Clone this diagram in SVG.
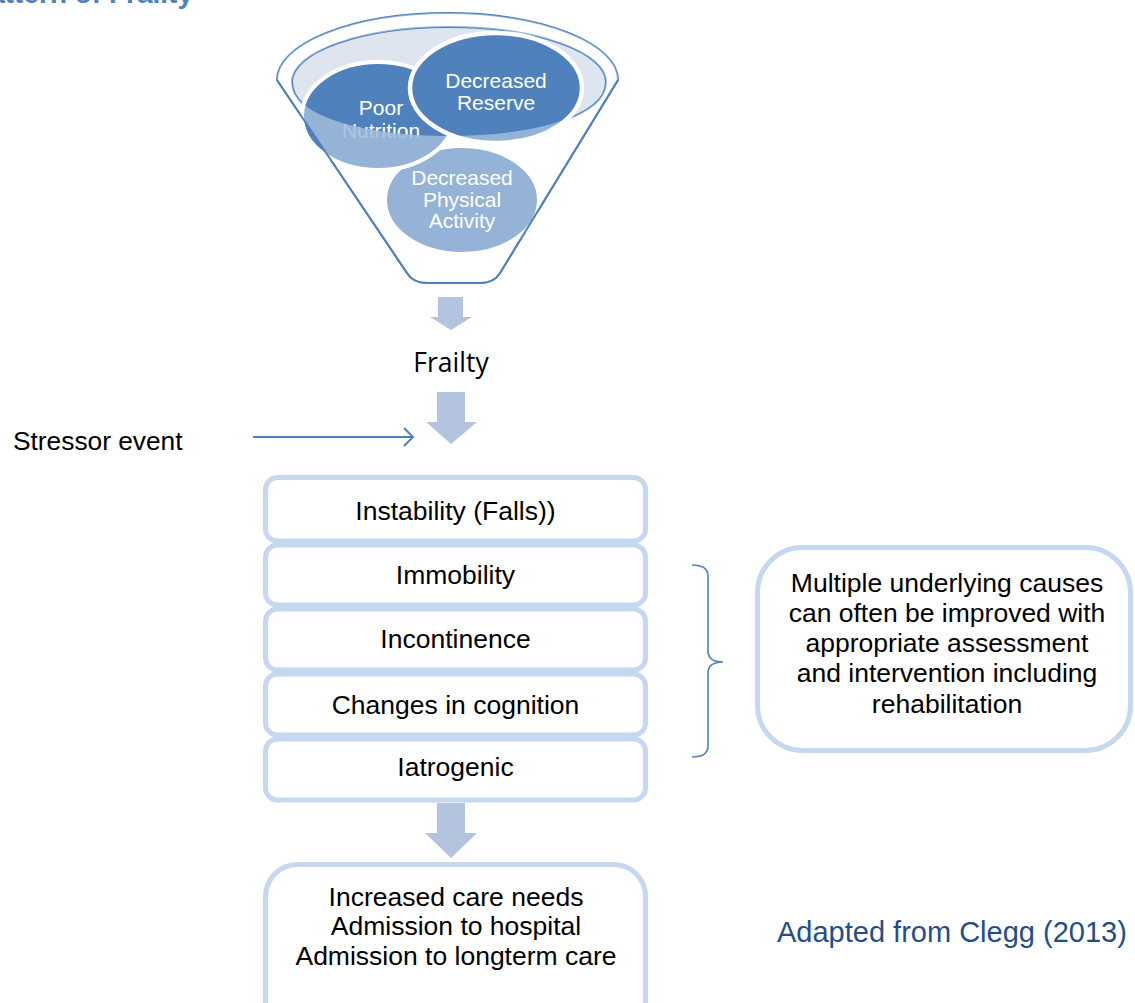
<svg xmlns="http://www.w3.org/2000/svg" width="1135" height="1003" viewBox="0 0 1135 1003">
<defs>
<style>
.t{font-family:"Liberation Sans",Arial,sans-serif;font-size:26.5px;fill:#000;text-anchor:middle}
.w{font-family:"Liberation Sans",Arial,sans-serif;font-size:21px;fill:#fff;text-anchor:middle}
.box{fill:#fff;stroke:#c6d8f0;stroke-width:5}
.arr{fill:#b3c4df}
.blue{fill:none;stroke:#4f81bd;stroke-width:2}
</style>
<clipPath id="innerClip"><path d="M292,82 A157,55 0 0,1 606,82 C606,154 292,154 292,82 Z"/></clipPath>
</defs>
<rect width="1135" height="1003" fill="#fff"/>
<text x="193" y="3" font-family="Liberation Sans, Arial, sans-serif" font-size="28" font-weight="bold" fill="#4f81bd" text-anchor="end">Pattern of Frailty</text>

<g id="funnel">
<path d="M277,80 A170.5,67 0 0,1 618,80 L500,273 Q494,283 480,283 L427,283 Q413,283 407,273 Z" fill="#fff" stroke="#4f81bd" stroke-width="2"/>
<path d="M292,82 A157,55 0 0,1 606,82 C606,154 292,154 292,82 Z" fill="#dfe5ef" stroke="#4f81bd" stroke-width="2"/>
</g>
<g id="node-dpa">
<ellipse cx="462" cy="200" rx="77" ry="54" fill="#4f81bd" stroke="#fff" stroke-width="4"/>
</g>
<g id="node-poor-nutrition">
<ellipse cx="378" cy="116" rx="76" ry="54" fill="#4f81bd" stroke="#fff" stroke-width="4"/>
<text class="w" x="381" y="115" clip-path="url(#innerClip)">Poor</text>
<text class="w" x="381" y="138" clip-path="url(#innerClip)">Nutrition</text>
<text class="w" x="381" y="138" fill-opacity="0.25">Nutrition</text>
</g>
<g id="node-decreased-reserve">
<ellipse cx="496" cy="88" rx="86" ry="55" fill="#4f81bd" stroke="#fff" stroke-width="4.5"/>
<text class="w" x="496" y="88">Decreased</text>
<text class="w" x="496" y="110">Reserve</text>
</g>
<g id="funnel-overlay">
<path d="M277,80 A170.5,67 0 0,1 618,80 L500,273 Q494,283 480,283 L427,283 Q413,283 407,273 Z M292,82 A157,55 0 0,1 606,82 C606,154 292,154 292,82 Z" fill="#fff" fill-opacity="0.4" fill-rule="evenodd"/>
<path d="M277,80 L407,273 Q413,283 427,283 L480,283 Q494,283 500,273 L618,80" fill="none" stroke="#4f81bd" stroke-width="2"/>
<text class="w" x="462" y="185">Decreased</text>
<text class="w" x="462" y="207">Physical</text>
<text class="w" x="462" y="228">Activity</text>
</g>

<g id="node-frailty">
<text x="451" y="372" font-family="Open Sans, sans-serif" font-size="26.5" fill="#000" text-anchor="middle">Frailty</text>
</g>
<g id="node-stressor">
<text x="13" y="450" font-family="Liberation Sans, Arial, sans-serif" font-size="26.3" fill="#000">Stressor event</text>
</g>

<g id="node-instability"><rect class="box" x="265.5" y="477.5" width="380" height="63.5" rx="12"/><text class="t" x="455.5" y="520">Instability (Falls))</text></g>
<g id="node-immobility"><rect class="box" x="265.5" y="545" width="380" height="60" rx="12"/><text class="t" x="455.5" y="584">Immobility</text></g>
<g id="node-incontinence"><rect class="box" x="265.5" y="609" width="380" height="61" rx="12"/><text class="t" x="455.5" y="648">Incontinence</text></g>
<g id="node-cognition"><rect class="box" x="265.5" y="674" width="380" height="61" rx="12"/><text class="t" x="455.5" y="714">Changes in cognition</text></g>
<g id="node-iatrogenic"><rect class="box" x="265.5" y="739" width="380" height="61" rx="12"/><text class="t" x="455.5" y="776">Iatrogenic</text></g>

<g id="node-outcomes"><rect class="box" x="265.5" y="864.5" width="380" height="170" rx="32"/>
<text class="t" x="456" y="906">Increased care needs</text>
<text class="t" x="456" y="935">Admission to hospital</text>
<text class="t" x="456" y="965">Admission to longterm care</text>
</g>

<g id="node-causes"><rect class="box" x="757.5" y="547.5" width="373" height="203" rx="45"/>
<text class="t" x="947" y="592">Multiple underlying causes</text>
<text class="t" x="947" y="622">can often be improved with</text>
<text class="t" x="947" y="652">appropriate assessment</text>
<text class="t" x="947" y="682">and intervention including</text>
<text class="t" x="947" y="713">rehabilitation</text>
</g>

<g id="node-source"><text x="777" y="942" font-family="Liberation Sans, Arial, sans-serif" font-size="29" fill="#1f4e8a">Adapted from Clegg (2013)</text></g>

<g id="connectors">
<polygon class="arr" points="438,297 463,297 463,317 472,317 451,330 430,317 438,317"/>
<polygon class="arr" points="437,392 465,392 465,422 477,422 451,444 426,422 437,422"/>
<polygon class="arr" points="437,803 465,803 465,833 477,833 451,858 425,833 437,833"/>
<line class="blue" x1="253" y1="437" x2="412" y2="437"/>
<path class="blue" d="M404,428 L413,437 L404,446"/>
<path d="M692,565 Q708,565 708,576 L708,651 Q708,662 723,662 Q708,662 708,673 L708,746 Q708,757 692,757" fill="none" stroke="#4f81bd" stroke-width="1.6"/>
</g>
</svg>
